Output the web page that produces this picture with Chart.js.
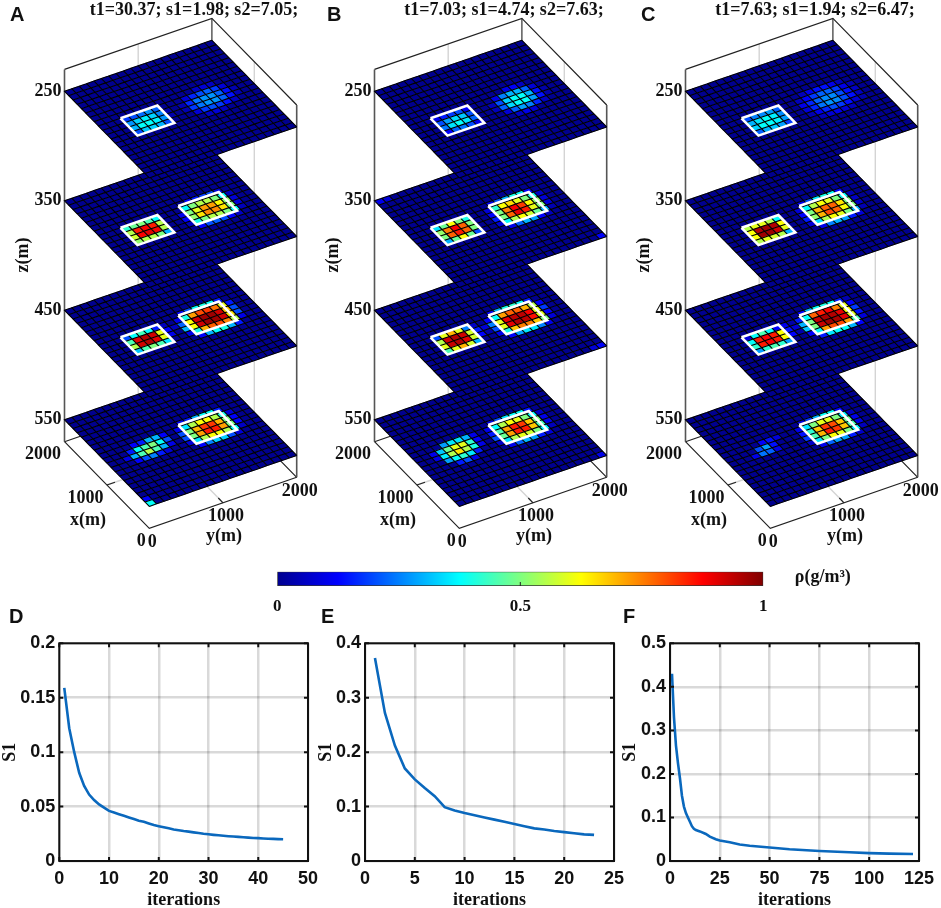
<!DOCTYPE html>
<html>
<head>
<meta charset="utf-8">
<title>Inversion slices and convergence curves</title>
<script src="https://cdn.jsdelivr.net/npm/chart.js@4/dist/chart.umd.min.js"></script>
<style>
    html, body { margin: 0; padding: 0; background: #fff; overflow: hidden; }
    canvas { position: absolute; }
</style>
</head>
<body>
<canvas id="sliceA" width="320" height="560" style="left:0;top:0"></canvas>
<canvas id="sliceB" width="320" height="560" style="left:310px;top:0"></canvas>
<canvas id="sliceC" width="320" height="560" style="left:621px;top:0"></canvas>
<canvas id="colorbar" width="600" height="60" style="left:260px;top:560px"></canvas>
<canvas id="curveD" width="325" height="303" style="left:0;top:605px"></canvas>
<canvas id="curveE" width="315" height="303" style="left:316px;top:605px"></canvas>
<canvas id="curveF" width="321" height="303" style="left:620px;top:605px"></canvas>
<script>
// slice levels and axis ticks
const zLevels = [250, 350, 450, 550];
const zRange = [230, 570];
const horizontalTicks = [0, 1000, 2000];
const titles = ['t1=30.37; s1=1.98; s2=7.05;', 't1=7.03; s1=4.74; s2=7.63;', 't1=7.63; s1=1.94; s2=6.47;'];

// density, rows go along x, columns along y
const A250near = [[0,0,0,0,0,0,0,0],[0,.18,.2,.23,.27,.22,0,0],[0,.27,.33,.36,.33,.25,.03,0],[0,.3,.38,.38,.36,.27,.03,0],[0,.2,.32,.33,.3,.2,0,0],[0,0,0,0,0,0,0,0]];
const A250far = [[0,0,0,.06,.08,.06,0,0],[0,.08,.16,.2,.22,.18,.08,0],[.04,.16,.24,.27,.27,.22,.14,.04],[.04,.18,.24,.27,.27,.22,.14,.04],[0,.08,.18,.2,.18,.14,.06,0],[0,0,.06,.08,.06,0,0,0]];
const A350near = [[0,0,0,0,0,0,0,0],[0,.42,.48,.5,.45,.38,0,0],[0,.55,.85,.88,.85,.55,0,0],[0,.58,.88,.9,.88,.55,0,0],[0,.52,.55,.55,.5,.3,0,0],[0,0,0,0,0,0,0,0]];
const A350far = [[0,0,.12,.15,.18,.2,.08,0],[0,.38,.5,.55,.55,.5,.38,.05],[.1,.5,.6,.72,.72,.62,.52,.08],[.12,.52,.65,.74,.74,.65,.5,.08],[.05,.4,.5,.55,.55,.5,.38,.05],[0,.12,.2,.22,.2,.12,.06,0]];
const A450near = [[0,0,0,0,0,0,0,0],[0,.2,.38,.44,.38,.15,.05,0],[0,.45,.9,.95,.92,.6,.12,.05],[0,.55,.92,.95,.9,.6,.1,0],[0,.32,.45,.5,.45,.35,0,0],[0,0,0,0,0,0,0,0]];
const A450far = [[0,.1,.2,.38,.4,.38,.15,0],[.1,.4,.72,.8,.82,.76,.6,.15],[.22,.62,.92,.97,.97,.92,.68,.2],[.3,.62,.92,.97,.97,.92,.65,.2],[.1,.4,.7,.78,.8,.75,.55,.1],[0,.12,.3,.38,.4,.3,.15,0]];
const A550near = [[0,0,0,0,0,0,0,0],[0,0,.12,.15,.3,.3,.12,0],[0,.15,.38,.45,.5,.38,.2,0],[.1,.3,.45,.55,.45,.3,.1,0],[0,.12,.2,.25,.15,.08,0,0],[0,0,0,0,0,0,0,0]];
const A550far = [[0,.1,.15,.3,.38,.38,.15,0],[.1,.35,.55,.62,.62,.55,.4,.08],[.2,.5,.7,.82,.82,.7,.5,.12],[.2,.5,.72,.85,.85,.72,.5,.12],[.08,.35,.55,.62,.62,.55,.38,.06],[0,.12,.25,.33,.33,.2,.08,0]];

const B250near = [[0,0,0,0,0,0,0,0],[0,.1,.15,.18,.2,.12,0,0],[0,.2,.28,.34,.32,.2,0,0],[0,.24,.35,.38,.35,.22,0,0],[0,.12,.22,.24,.2,.1,0,0],[0,0,0,0,0,0,0,0]];
const B250far = [[0,0,0,.1,.12,.06,0,0],[0,.1,.25,.3,.3,.22,.08,0],[.05,.2,.33,.38,.38,.3,.14,.03],[.05,.22,.34,.38,.38,.28,.14,.03],[0,.08,.22,.28,.25,.16,.06,0],[0,0,.06,.1,.08,0,0,0]];
const B350near = [[0,0,0,0,0,0,0,0],[0,.35,.48,.62,.5,.4,0,0],[0,.52,.75,.88,.78,.5,0,0],[0,.5,.78,.85,.78,.5,0,0],[0,.3,.48,.62,.48,.2,0,0],[0,0,0,0,0,0,0,0]];
const B350far = [[0,.1,.2,.3,.4,.38,.12,0],[.08,.42,.62,.66,.6,.5,.4,.06],[.12,.5,.75,.88,.82,.62,.52,.08],[.15,.5,.78,.9,.85,.6,.5,.08],[.08,.38,.55,.62,.58,.48,.3,.04],[0,.1,.22,.3,.28,.12,.05,0]];
const B450near = [[0,0,0,0,0,0,0,0],[0,.2,.6,.7,.6,.25,.06,0],[0,.55,.92,.95,.92,.58,.15,.08],[0,.6,.93,.95,.9,.58,.12,.03],[0,.45,.6,.7,.58,.3,0,0],[0,0,0,0,0,0,0,0]];
const B450far = [[0,.1,.3,.4,.42,.38,.15,0],[.12,.38,.72,.78,.78,.7,.55,.12],[.25,.6,.9,.94,.94,.88,.6,.18],[.2,.6,.9,.95,.94,.86,.6,.12],[.1,.4,.68,.75,.75,.68,.5,.08],[0,.12,.28,.35,.35,.25,.1,0]];
const B550near = [[0,0,0,0,0,0,0,0],[0,0,.28,.35,.35,.3,.1,0],[.1,.32,.48,.6,.6,.42,.12,0],[.1,.36,.55,.65,.55,.4,.1,0],[0,.28,.38,.42,.35,.15,0,0],[0,0,.15,.2,.1,0,0,0]];
const B550far = [[0,.08,.2,.35,.38,.38,.14,0],[.1,.38,.55,.62,.6,.5,.38,.06],[.15,.45,.72,.85,.82,.68,.5,.1],[.2,.48,.72,.85,.85,.68,.45,.1],[.06,.35,.55,.6,.58,.5,.36,.05],[0,.1,.22,.3,.28,.15,.08,0]];

const C250near = [[0,0,0,0,0,0,0,0],[0,.2,.25,.26,.28,.22,0,0],[0,.3,.35,.38,.36,.26,0,0],[0,.33,.38,.38,.36,.28,0,0],[0,.22,.3,.32,.28,.18,0,0],[0,0,0,0,0,0,0,0]];
const C250far = [[0,.05,.1,.14,.14,.1,.05,0],[.05,.12,.18,.22,.22,.18,.1,.04],[.1,.16,.22,.26,.26,.2,.14,.06],[.08,.16,.24,.27,.26,.2,.14,.05],[.04,.1,.16,.2,.18,.14,.08,.03],[0,.05,.08,.1,.08,.05,0,0]];
const C350near = [[0,0,0,0,0,0,0,0],[0,.55,.6,.6,.55,.38,0,0],[0,.62,.95,.97,.95,.62,0,0],[0,.62,.97,.97,.92,.6,0,0],[0,.55,.6,.58,.55,.3,0,0],[0,0,0,0,0,0,0,0]];
const C350far = [[0,.1,.2,.35,.4,.38,.12,0],[.08,.38,.55,.62,.6,.5,.38,.04],[.12,.5,.7,.78,.78,.65,.5,.06],[.15,.52,.7,.8,.78,.62,.5,.06],[.08,.35,.55,.62,.6,.5,.3,.04],[0,.1,.25,.3,.28,.15,.08,0]];
const C450near = [[0,0,0,0,0,0,0,0],[0,.08,.38,.45,.38,.12,.1,.03],[0,.38,.85,.88,.85,.62,.14,.08],[0,.42,.85,.88,.85,.62,.12,.03],[0,.28,.42,.45,.42,.28,0,0],[0,0,0,0,0,0,0,0]];
const C450far = [[0,.12,.3,.38,.4,.38,.15,.04],[.15,.38,.78,.85,.88,.75,.6,.12],[.3,.5,.93,.96,.95,.9,.62,.18],[.32,.5,.93,.97,.96,.9,.6,.14],[.12,.38,.72,.8,.8,.72,.45,.08],[0,.15,.35,.38,.38,.3,.12,0]];
const C550near = [[0,0,0,0,0,0,0,0],[0,0,0,.12,.14,.08,0,0],[0,0,.2,.28,.14,0,0,0],[0,.1,.24,.22,.1,0,0,0],[0,0,0,0,0,0,0,0],[0,0,0,0,0,0,0,0]];
const C550far = [[0,.08,.18,.3,.38,.38,.12,0],[.1,.35,.5,.6,.6,.5,.36,.05],[.14,.42,.68,.82,.8,.68,.48,.1],[.18,.45,.7,.85,.82,.68,.45,.1],[.06,.35,.5,.62,.6,.5,.36,.05],[0,.1,.22,.28,.28,.15,.06,0]];

// lone cells: z, column, row, density
const AStray = [[550,11,0,.38],[550,0,19,.38],[550,0,18,.12]];
const BStray = [[350,0,0,.1],[350,1,0,.08],[350,19,19,.12],[450,11,0,.1],[450,19,19,.12],[450,18,19,.08],[550,11,0,.1],[550,19,19,.1]];
const CStray = [];

// convergence curves
const iterD = [1,2,3,4,5,6,7,8,9,10,11,12,13,14,15,16,17,18,19,20,21,22,23,24,25,26,27,28,29,30,31,32,33,34,35,36,37,38,39,40,41,42,43,44,45];
const s1D = [.159,.122,.1,.081,.069,.061,.056,.052,.049,.046,.0445,.043,.0415,.04,.0385,.037,.036,.0345,.033,.032,.031,.03,.029,.0283,.0275,.027,.0263,.0257,.025,.0245,.024,.0236,.0232,.0228,.0225,.0222,.0218,.0215,.0212,.021,.0207,.0205,.0203,.0201,.02];
const iterE = [1,2,3,4,5,6,7,8,9,10,11,12,13,14,15,16,17,18,19,20,21,22,23];
const s1E = [.373,.272,.212,.17,.15,.134,.119,.099,.093,.088,.084,.08,.076,.072,.068,.064,.06,.058,.055,.053,.051,.049,.048];
const iterF = [1,2,3,4,5,6,7,8,9,10,11,12,13,15,18,20,23,25,30,35,40,50,60,75,90,100,110,122];
const s1F = [.43,.33,.265,.225,.19,.15,.125,.11,.1,.09,.08,.074,.071,.068,.062,.056,.05,.047,.043,.038,.035,.031,.027,.023,.02,.018,.017,.016];

// jet colour map
const jetPositions = [0, .125, .375, .625, .875, 1];
const jetColors = [[0,0,143],[0,0,255],[0,255,255],[255,255,0],[255,0,0],[128,0,0]];

const SERIF_BOLD = 'bold 18px "Liberation Serif"';
const SANS_BOLD = 'bold 20px "Liberation Sans"';

function jet(t) {
    let i = 0;
    while (i < jetPositions.length - 2 && t > jetPositions[i + 1]) i++;
    const f = (t - jetPositions[i]) / (jetPositions[i + 1] - jetPositions[i]);
    const c = jetColors[i].map((v, k) => Math.round(v + (jetColors[i + 1][k] - v) * f));
    return `rgb(${c[0]},${c[1]},${c[2]})`;
}

// view of the box: metres to units of the panel's own scales
function project(x, y, z) {
    return {
        x: 149.3 + y / 2000 * 147.4 - x / 2000 * 84.8,
        y: 528.3 - y / 2000 * 51 - x / 2000 * 86.6 + (z - zRange[1]) * 1.095
    };
}

// draws one polygon per datum through the chart's scales, then one net of edges over them
class CellsController extends Chart.ScatterController {
    draw() {
        const meta = this._cachedMeta;
        const c = this.chart.ctx;
        const trace = corners => {
            corners.forEach((p, i) => {
                const px = meta.xScale.getPixelForValue(p.x);
                const py = meta.yScale.getPixelForValue(p.y);
                if (i === 0) c.moveTo(px, py); else c.lineTo(px, py);
            });
        };
        c.save();
        this.getDataset().data.forEach(cell => {
            c.beginPath();
            trace(cell.corners);
            c.closePath();
            c.fillStyle = c.strokeStyle = jet(cell.rho);
            c.lineWidth = 0.5;
            c.fill();
            c.stroke();
        });
        c.beginPath();
        this.getDataset().data.forEach(cell => {
            // two edges per cell, plus the outer ones on the last row and column
            trace([cell.corners[3], cell.corners[0], cell.corners[1]]);
            if (cell.lastCol) trace([cell.corners[1], cell.corners[2]]);
            if (cell.lastRow) trace([cell.corners[3], cell.corners[2]]);
        });
        c.strokeStyle = '#000';
        c.lineWidth = 1.1;
        c.stroke();
        c.restore();
    }
}
CellsController.id = 'cells';
CellsController.defaults = Chart.ScatterController.defaults;
Chart.register(CellsController);

function sliceCells(z, near, far, stray) {
    const rho = [];
    for (let row = 0; row < 20; row++) rho.push(new Array(20).fill(0));
    near.forEach((vals, r) => vals.forEach((v, k) => { rho[7 + r][2 + k] = v; }));
    far.forEach((vals, r) => vals.forEach((v, k) => { rho[7 + r][10 + k] = v; }));
    stray.filter(s => s[0] === z).forEach(s => { rho[s[2]][s[1]] = s[3]; });

    const cells = [];
    for (let row = 0; row < 20; row++) {
        for (let col = 0; col < 20; col++) {
            const x0 = 2000 - row * 100, x1 = x0 - 100;
            const y0 = col * 100, y1 = y0 + 100;
            const corners = [project(x0, y0, z), project(x0, y1, z), project(x1, y1, z), project(x1, y0, z)];
            cells.push({ x: corners[0].x, y: corners[0].y, corners: corners, rho: rho[row][col],
                lastRow: row === 19, lastCol: col === 19 });
        }
    }
    return cells;
}

function pathLine(points, color, width, order) {
    return {
        type: 'scatter', showLine: true, pointRadius: 0, order: order,
        borderColor: color, borderWidth: width, borderJoinStyle: 'miter',
        data: points.map(p => project(p[0], p[1], p[2]))
    };
}

function rectLine(xLow, xHigh, yLow, yHigh, z, order) {
    return pathLine([[xHigh,yLow,z],[xHigh,yHigh,z],[xLow,yHigh,z],[xLow,yLow,z],[xHigh,yLow,z]], '#fff', 2.6, order);
}

function buildSlicePanel(id, index, layers, stray, letterX) {
    const zTop = zRange[0], zBot = zRange[1];
    const datasets = [];
    let order = 100;
    // grid on walls and floor
    [[[2000,1000,zTop],[2000,1000,zBot]], [[1000,2000,zTop],[1000,2000,zBot]],
     [[1000,0,zBot],[1000,2000,zBot]], [[0,1000,zBot],[2000,1000,zBot]]].forEach(p => {
        datasets.push(pathLine(p, '#d4d4d4', 1.4, order--));
    });
    // back of the box
    datasets.push(pathLine([[2000,0,zTop],[2000,2000,zTop],[0,2000,zTop]], '#222', 1.2, order--));
    datasets.push(pathLine([[2000,0,zBot],[2000,2000,zBot],[0,2000,zBot]], '#222', 1.2, order--));
    datasets.push(pathLine([[2000,2000,zTop],[2000,2000,zBot]], '#333', 1.2, order--));
    datasets.push(pathLine([[2000,0,zTop],[2000,0,zBot]], '#555', 1.6, order--));
    datasets.push(pathLine([[0,2000,zTop],[0,2000,zBot]], '#555', 1.6, order--));
    // front axes and their ticks
    datasets.push(pathLine([[2000,0,zBot],[0,0,zBot],[0,2000,zBot]], '#222', 1.2, order--));
    datasets.push(pathLine([[1000,0,zBot],[1000,110,zBot]], '#222', 1.2, order--));
    datasets.push(pathLine([[0,1000,zBot],[110,1000,zBot]], '#222', 1.2, order--));
    // lowest slice first so the upper ones cover it
    for (let i = zLevels.length - 1; i >= 0; i--) {
        const z = zLevels[i];
        datasets.push({ type: 'cells', pointRadius: 0, order: order--,
            data: sliceCells(z, layers[i][0], layers[i][1], stray) });
        if (z !== 550) datasets.push(rectLine(800, 1200, 300, 800, z, order--));
        if (z !== 250) datasets.push(rectLine(800, 1230, 1100, 1650, z, order--));
    }

    const labelPlugin = {
        id: 'sliceLabels',
        afterDraw(chart) {
            const c = chart.ctx;
            const sx = chart.scales.x, sy = chart.scales.y;
            const put = (txt, x, y, align, font) => {
                c.font = font || SERIF_BOLD;
                c.textAlign = align || 'center';
                c.textBaseline = 'middle';
                c.fillStyle = '#111';
                c.fillText(txt, sx.getPixelForValue(x), sy.getPixelForValue(y));
            };
            put(titles[index], 194, 10);
            put(['A', 'B', 'C'][index], letterX, 15, 'left', SANS_BOLD);
            zLevels.forEach(z => {
                const p = project(2000, 0, z);
                put(String(z), p.x - 3, p.y, 'right');
            });
            horizontalTicks.forEach(t => {
                const px = project(t, 0, zRange[1]);
                put(String(t), px.x - 3.5, px.y + 13, 'right');
                const py = project(0, t, zRange[1]);
                put(String(t), py.x + 3, py.y + 14, 'center');
            });
            put('x(m)', 88, 520);
            put('y(m)', 224, 536);
            c.save();
            c.translate(sx.getPixelForValue(23), sy.getPixelForValue(255));
            c.rotate(-Math.PI / 2);
            c.font = SERIF_BOLD;
            c.textAlign = 'center';
            c.textBaseline = 'middle';
            c.fillText('z(m)', 0, 0);
            c.restore();
        }
    };

    new Chart(document.getElementById(id), {
        type: 'scatter',
        data: { datasets: datasets },
        options: {
            responsive: false,
            animation: false,
            events: [],
            layout: { padding: 0 },
            plugins: { legend: { display: false }, tooltip: { enabled: false } },
            scales: {
                x: { type: 'linear', min: 0, max: 320, display: false },
                y: { type: 'linear', min: 0, max: 560, reverse: true, display: false }
            }
        },
        plugins: [labelPlugin]
    });
}

function buildColorbar() {
    const colorbarTicks = [0, 0.5, 1];
    new Chart(document.getElementById('colorbar'), {
        type: 'bar',
        data: {
            labels: ['rho'],
            datasets: [{
                data: [[0, 1]],
                barPercentage: 1,
                categoryPercentage: 1,
                borderWidth: 1,
                borderColor: '#333',
                borderSkipped: false,
                backgroundColor: ctx => {
                    const area = ctx.chart.chartArea;
                    if (!area) return '#000';
                    const g = ctx.chart.ctx.createLinearGradient(area.left, 0, area.right, 0);
                    jetPositions.forEach((p, i) => {
                        g.addColorStop(p, `rgb(${jetColors[i].join(',')})`);
                    });
                    return g;
                }
            }]
        },
        options: {
            indexAxis: 'y',
            responsive: false,
            animation: false,
            events: [],
            layout: { padding: { left: 17.3, right: 96.7, top: 11.7, bottom: 0 } },
            plugins: { legend: { display: false }, tooltip: { enabled: false } },
            scales: {
                y: { display: false },
                x: {
                    type: 'linear', min: 0, max: 1,
                    afterBuildTicks: axis => { axis.ticks = colorbarTicks.map(v => ({ value: v })); },
                    afterFit: axis => { axis.height = 34; },
                    border: { display: false },
                    grid: { display: false },
                    ticks: {
                        autoSkip: false, maxRotation: 0, padding: 2, color: '#111',
                        font: { family: '"Liberation Serif"', weight: 'bold', size: 17 },
                        callback: v => String(v)
                    }
                }
            }
        },
        plugins: [{
            id: 'colorbarExtras',
            afterDraw(chart) {
                const c = chart.ctx, sx = chart.scales.x, a = chart.chartArea;
                c.strokeStyle = '#222';
                c.lineWidth = 1;
                c.beginPath();
                c.moveTo(sx.getPixelForValue(0.5), a.bottom);
                c.lineTo(sx.getPixelForValue(0.5), a.bottom - 4);
                c.stroke();
                c.font = 'bold 18px "Liberation Serif"';
                c.textAlign = 'center';
                c.textBaseline = 'middle';
                c.fillStyle = '#111';
                c.fillText('ρ(g/m³)', sx.getPixelForValue(1) + 59.5, 17);
            }
        }]
    });
}

function buildCurve(id, letter, letterX, iter, s1, xTicks, yTicks, box) {
    const axisFont = { family: '"Liberation Sans"', weight: 'bold', size: 18 };
    const titleFont = { family: '"Liberation Serif"', weight: 'bold', size: 18 };
    new Chart(document.getElementById(id), {
        type: 'line',
        data: {
            datasets: [{
                data: iter.map((v, i) => ({ x: v, y: s1[i] })),
                borderColor: '#0a68bd',
                borderWidth: 2.6,
                pointRadius: 0,
                tension: 0
            }]
        },
        options: {
            responsive: false,
            animation: false,
            events: [],
            layout: { padding: { left: 0, right: box.right, top: 38.3, bottom: 0 } },
            plugins: { legend: { display: false }, tooltip: { enabled: false } },
            scales: {
                x: {
                    type: 'linear', min: xTicks[0], max: xTicks[xTicks.length - 1],
                    afterBuildTicks: axis => { axis.ticks = xTicks.map(v => ({ value: v })); },
                    afterFit: axis => { axis.height = 47; },
                    border: { display: false },
                    grid: { color: 'rgba(0,0,0,0.15)', lineWidth: 2.5, drawTicks: false },
                    ticks: { autoSkip: false, maxRotation: 0, padding: 7, color: '#111', font: axisFont, callback: v => String(v) },
                    title: { display: true, text: 'iterations', color: '#111', font: titleFont, padding: { top: 0, bottom: -3 } }
                },
                y: {
                    type: 'linear', min: yTicks[0], max: yTicks[yTicks.length - 1],
                    afterBuildTicks: axis => { axis.ticks = yTicks.map(v => ({ value: v })); },
                    afterFit: axis => { axis.width = box.left; },
                    border: { display: false },
                    grid: { color: 'rgba(0,0,0,0.15)', lineWidth: 2.5, drawTicks: false },
                    ticks: { autoSkip: false, padding: 4, color: '#111', font: axisFont, callback: v => String(v) },
                    title: { display: true, text: 'S1', color: '#111', font: titleFont, padding: 0 }
                }
            }
        },
        plugins: [{
            id: 'frameAndTicks',
            afterDraw(chart) {
                const c = chart.ctx, a = chart.chartArea;
                c.strokeStyle = '#111';
                c.lineWidth = 2;
                c.beginPath();
                xTicks.forEach(t => {
                    const px = chart.scales.x.getPixelForValue(t);
                    c.moveTo(px, a.top); c.lineTo(px, a.top + 4);
                    c.moveTo(px, a.bottom); c.lineTo(px, a.bottom - 4);
                });
                yTicks.forEach(t => {
                    const py = chart.scales.y.getPixelForValue(t);
                    c.moveTo(a.left, py); c.lineTo(a.left + 4, py);
                    c.moveTo(a.right, py); c.lineTo(a.right - 4, py);
                });
                c.stroke();
                c.strokeRect(a.left, a.top, a.right - a.left, a.bottom - a.top);
                c.font = SANS_BOLD;
                c.textAlign = 'left';
                c.textBaseline = 'middle';
                c.fillStyle = '#111';
                c.fillText(letter, letterX, 12);
            }
        }]
    });
}

buildSlicePanel('sliceA', 0, [[A250near, A250far], [A350near, A350far], [A450near, A450far], [A550near, A550far]], AStray, 10);
buildSlicePanel('sliceB', 1, [[B250near, B250far], [B350near, B350far], [B450near, B450far], [B550near, B550far]], BStray, 17);
buildSlicePanel('sliceC', 2, [[C250near, C250far], [C350near, C350far], [C450near, C450far], [C550near, C550far]], CStray, 20);
buildColorbar();
buildCurve('curveD', 'D', 9, iterD, s1D, [0,10,20,30,40,50], [0,0.05,0.1,0.15,0.2], { left: 59.3, right: 12.7 });
buildCurve('curveE', 'E', 5, iterE, s1E, [0,5,10,15,20,25], [0,0.1,0.2,0.3,0.4], { left: 49, right: 13.7 });
buildCurve('curveF', 'F', 3, iterF, s1F, [0,25,50,75,100,125], [0,0.1,0.2,0.3,0.4,0.5], { left: 50, right: 18.3 });
</script>
</body>
</html>
